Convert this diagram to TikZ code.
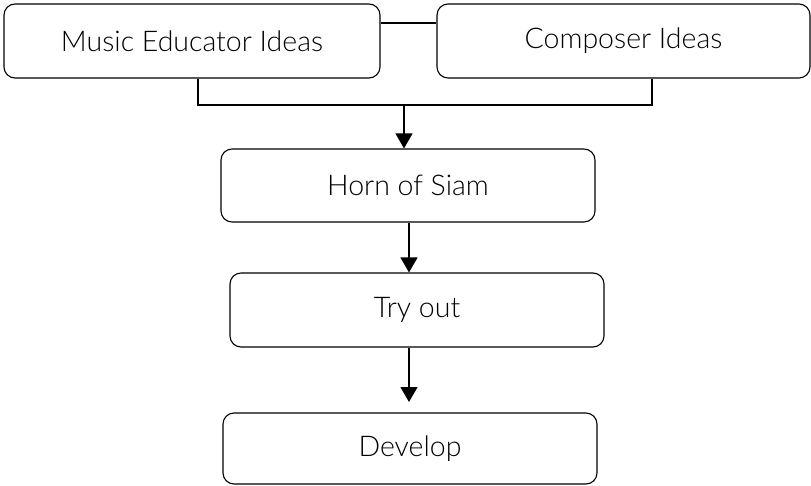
\documentclass[tikz,border=0pt]{standalone}
\usepackage{fontspec}
\setmainfont{Lato}[UprightFont=* Light]
\usetikzlibrary{arrows.meta}
\newcommand\boxtext[1]{\raisebox{-6pt}{#1}}
\begin{document}
\begin{tikzpicture}[x=1pt,y=-1pt,
  stepbox/.style={draw, line width=1.1pt, rounded corners=11pt, font=\fontsize{28.5}{32}\selectfont, inner sep=0pt},
  link/.style={line width=1.1pt},
  arr/.style={line width=1.1pt, -{Triangle[width=17pt,length=15pt]}}]
\useasboundingbox (0,0) rectangle (811,485);

\node[stepbox, minimum width=376pt, minimum height=74pt] (m) at (192,41) {\boxtext{Music Educator Ideas}};
\node[stepbox, minimum width=373pt, minimum height=74pt] (c) at (623.5,41) {\boxtext{Composer Ideas}};
\node[stepbox, minimum width=374pt, minimum height=73pt] (h) at (408,185.5) {\boxtext{Horn of Siam}};
\node[stepbox, minimum width=374pt, minimum height=74pt] (t) at (417,310) {\boxtext{Try out}};
\node[stepbox, minimum width=374pt, minimum height=71pt] (d) at (410,448.5) {\boxtext{Develop}};

% link between the two idea boxes
\draw[link] ([yshift=18pt]m.east) -- ([yshift=18pt]c.west);

% bracket joining both idea boxes
\coordinate (j) at (404,105);
\draw[link] ([xshift=6pt]m.south) |- (j) -| ([xshift=28.5pt]c.south);

\draw[arr] (j) -- (j |- h.north);
\draw[arr] ([xshift=1pt]h.south) -- ([xshift=1pt]h.south |- t.north);
\coordinate (e) at (409,402);
\draw[arr] (e |- t.south) -- (e);
\end{tikzpicture}
\end{document}
